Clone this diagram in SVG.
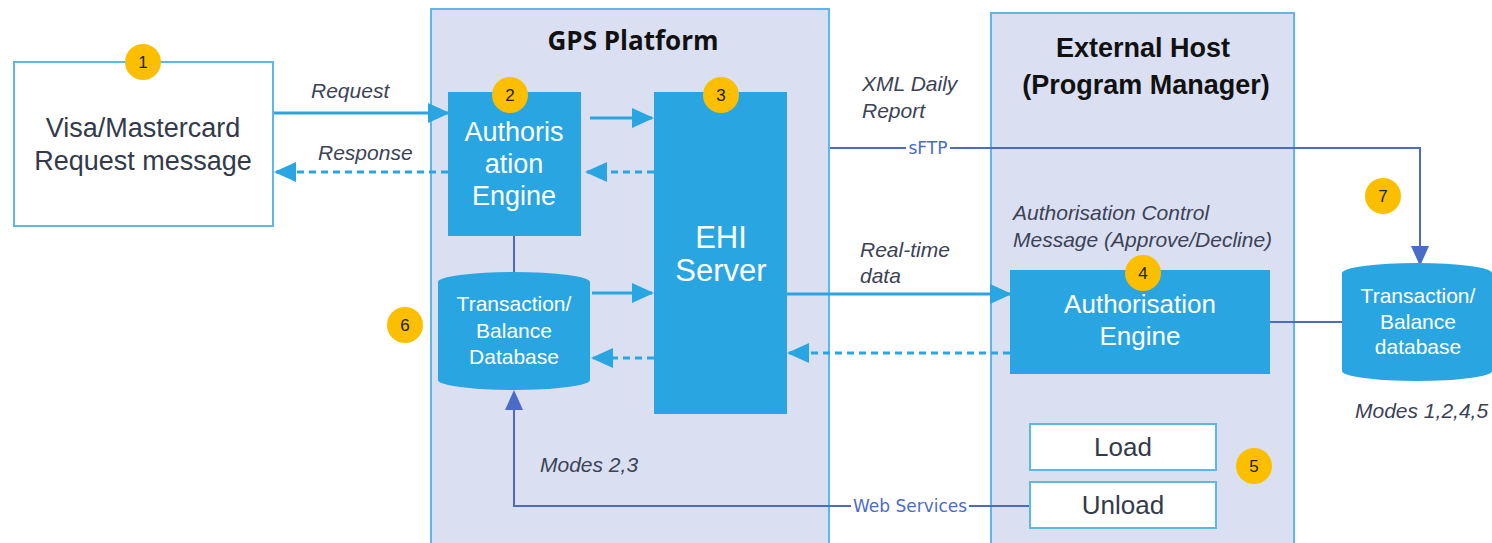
<svg xmlns="http://www.w3.org/2000/svg" width="1492" height="543" viewBox="0 0 1492 543">
<style>
.cont{fill:#dae0f2;stroke:#5cb8e8;stroke-width:2}
.wbox{fill:#ffffff;stroke:#5cb8e8;stroke-width:2}
.blue{fill:#29a6e2}
.badge{fill:#fbbf00}
.bt{font-family:"Liberation Sans",Arial,sans-serif;font-size:17px;fill:#222;text-anchor:middle}
.wt{font-family:"Liberation Sans",Arial,sans-serif;fill:#ffffff;text-anchor:middle}
.dt{font-family:"Liberation Sans",Arial,sans-serif;fill:#333a4a;text-anchor:middle}
.it{font-family:"Liberation Sans",Arial,sans-serif;font-style:italic;font-size:21px;fill:#3c4256}
.ttl{font-family:"Liberation Sans",Arial,sans-serif;font-weight:bold;font-size:27px;fill:#111;text-anchor:middle}
.lb{stroke:#29a6e2;stroke-width:3;fill:none}
.lbd{stroke:#29a6e2;stroke-width:3;fill:none;stroke-dasharray:7,5}
.ind{stroke:#4a6cc8;stroke-width:2;fill:none}
.lab{font-family:"DejaVu Sans",sans-serif;font-size:17px;fill:#4a6cc8;text-anchor:middle}
</style>
<defs>
<marker id="ab" markerUnits="userSpaceOnUse" markerWidth="22" markerHeight="20" refX="20" refY="10" orient="auto"><path d="M0,0 L22,10 L0,20 Z" fill="#29a6e2"/></marker>
<marker id="ai" markerUnits="userSpaceOnUse" markerWidth="20" markerHeight="18" refX="18" refY="9" orient="auto"><path d="M0,0 L20,9 L0,18 Z" fill="#4a6cc8"/></marker>
</defs>

<g id="gps-platform">
<rect class="cont" x="431" y="9" width="398" height="540"/>
<text class="ttl" x="633" y="50" style="font-family:'Open Sans','Liberation Sans',sans-serif;font-size:26px">GPS Platform</text>
</g>
<g id="external-host">
<rect class="cont" x="991" y="13" width="303" height="536"/>
<text class="ttl" x="1143" y="57">External Host</text>
<text class="ttl" x="1146" y="94">(Program Manager)</text>
</g>

<g id="connectors">
<line class="lb" x1="273" y1="113" x2="448" y2="113" marker-end="url(#ab)"/>
<line class="lbd" x1="448" y1="172" x2="276" y2="172" marker-end="url(#ab)"/>
<line class="lb" x1="590" y1="118" x2="652" y2="118" marker-end="url(#ab)"/>
<line class="lbd" x1="654" y1="172" x2="587" y2="172" marker-end="url(#ab)"/>
<line class="lb" x1="592" y1="293" x2="652" y2="293" marker-end="url(#ab)"/>
<line class="lbd" x1="654" y1="358" x2="593" y2="358" marker-end="url(#ab)"/>
<line class="lb" x1="787" y1="294" x2="1010" y2="294" marker-end="url(#ab)"/>
<line class="lbd" x1="1010" y1="353" x2="789" y2="353" marker-end="url(#ab)"/>
<line class="ind" x1="514" y1="236" x2="514" y2="272"/>
<polyline class="ind" points="830,148 1420,148 1420,264" marker-end="url(#ai)"/>
<line class="ind" x1="1270" y1="322" x2="1343" y2="322"/>
<polyline class="ind" points="1030,506 514,506 514,392" marker-end="url(#ai)"/>
<rect x="906" y="140" width="44" height="16" fill="#ffffff"/>
<text class="lab" x="928" y="154">sFTP</text>
<rect x="851" y="497" width="118" height="18" fill="#ffffff"/>
<text class="lab" x="910" y="512">Web Services</text>
<text class="it" x="311" y="98">Request</text>
<text class="it" x="318" y="160">Response</text>
<text class="it" x="862" y="91">XML Daily</text>
<text class="it" x="862" y="118">Report</text>
<text class="it" x="860" y="257">Real-time</text>
<text class="it" x="860" y="283">data</text>
<text class="it" x="1013" y="220">Authorisation Control</text>
<text class="it" x="1013" y="247">Message (Approve/Decline)</text>
<text class="it" x="540" y="472">Modes 2,3</text>
<text class="it" x="1355" y="418">Modes 1,2,4,5</text>
</g>

<g id="visa-request">
<rect class="wbox" x="14" y="62" width="259" height="164"/>
<text class="dt" x="143" y="137" font-size="27">Visa/Mastercard</text>
<text class="dt" x="143" y="170" font-size="27">Request message</text>
<circle class="badge" cx="143" cy="62" r="18"/>
<text class="bt" x="143" y="68">1</text>
</g>

<g id="auth-engine-gps">
<rect class="blue" x="448" y="92" width="133" height="144"/>
<text class="wt" x="514" y="141" font-size="27">Authoris</text>
<text class="wt" x="514" y="173" font-size="27">ation</text>
<text class="wt" x="514" y="205" font-size="27">Engine</text>
<circle class="badge" cx="510" cy="95" r="18"/>
<text class="bt" x="510" y="101">2</text>
</g>

<g id="ehi-server">
<rect class="blue" x="654" y="92" width="133" height="322"/>
<text class="wt" x="721" y="248" font-size="31">EHI</text>
<text class="wt" x="721" y="281" font-size="31">Server</text>
<circle class="badge" cx="721" cy="95" r="18"/>
<text class="bt" x="721" y="101">3</text>
</g>

<g id="db-gps">
<path class="blue" d="M438,282 A76,10 0 0 1 590,282 L590,380 A76,10 0 0 1 438,380 Z"/>
<text class="wt" x="514" y="311" font-size="21">Transaction/</text>
<text class="wt" x="514" y="338" font-size="21">Balance</text>
<text class="wt" x="514" y="364" font-size="21">Database</text>
<circle class="badge" cx="405" cy="325" r="18"/>
<text class="bt" x="405" y="331">6</text>
</g>

<g id="auth-engine-ext">
<rect class="blue" x="1010" y="270" width="260" height="104"/>
<text class="wt" x="1140" y="313" font-size="26">Authorisation</text>
<text class="wt" x="1140" y="345" font-size="26">Engine</text>
<circle class="badge" cx="1143" cy="273" r="18"/>
<text class="bt" x="1143" y="279">4</text>
</g>

<g id="db-ext">
<path class="blue" d="M1342,273 A75,10 0 0 1 1492,273 L1492,371 A75,10 0 0 1 1342,371 Z"/>
<text class="wt" x="1418" y="303" font-size="21">Transaction/</text>
<text class="wt" x="1418" y="329" font-size="21">Balance</text>
<text class="wt" x="1418" y="354" font-size="21">database</text>
<circle class="badge" cx="1383" cy="196" r="18"/>
<text class="bt" x="1383" y="202">7</text>
</g>

<g id="load">
<rect class="wbox" x="1030" y="424" width="186" height="46"/>
<text class="dt" x="1123" y="456" font-size="26">Load</text>
</g>
<g id="unload">
<rect class="wbox" x="1030" y="482" width="186" height="46"/>
<text class="dt" x="1123" y="514" font-size="26">Unload</text>
<circle class="badge" cx="1254" cy="466" r="18"/>
<text class="bt" x="1254" y="472">5</text>
</g>
</svg>
